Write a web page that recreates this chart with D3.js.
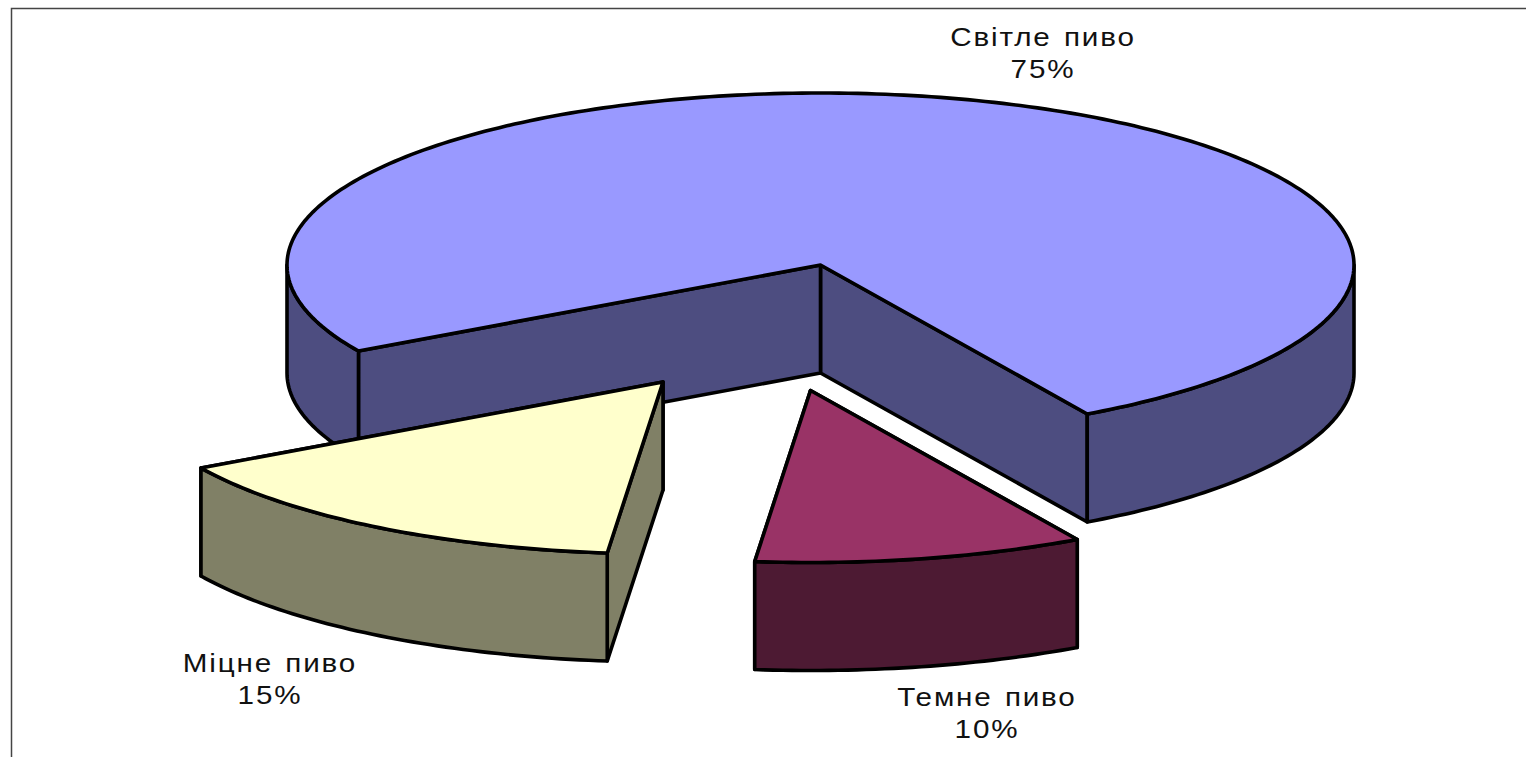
<html>
  <head>
    <meta charset="utf-8">
    <style>
      html, body {
        margin:0;
        background:#fff;
      }
      svg {
        display:block;
      }
      .label {
        font-family:"Liberation Sans", Arial, sans-serif;
        font-size:26px;
        letter-spacing:1.6px;
        word-spacing:2px;
        fill:#111;
        text-anchor:middle;
      }
    </style>
  </head>
  <body>
    <div class="graph"></div>
    <script src="https://d3js.org/d3.v7.min.js"></script>
    <script>
      var names = ["Світле пиво", "Темне пиво", "Міцне пиво"];
      var values = [75, 10, 15];
      var topColors = ["#9999ff", "#993366", "#ffffcc"];
      var sideColors = ["#4d4d80", "#4d1a33", "#808066"];

      var width = 1526;
      var height = 757;
      var cx = 820.5, cy = 265;
      var rx = 533.5, ry = 172;
      var depth = 108;

      // how far each slice is pulled out of the pie
      var shiftX = [0, -10, -157.5];
      var shiftY = [0, 125.5, 117];
      var labelX = [1043, 987, 270];
      var labelY = [46, 706, 672];
      var lineGap = 32;
      var stretch = 1.14;

      var toRad = Math.PI / 180;

      var svg = d3.select(".graph").append("svg")
        .attr("width", width)
        .attr("height", height);

      // frame of the chart area, cut off by the photo on the right and bottom
      svg.append("path")
        .attr("d", "M11.5," + height + "V8.5H" + width)
        .attr("fill", "none")
        .attr("stroke", "#444")
        .attr("stroke-width", 1.5);

      var pie = d3.pie()
        .sort(null)
        .startAngle(240 * toRad)
        .endAngle(600 * toRad);

      var line = d3.line()
        .x(function (d) { return d[0]; })
        .y(function (d) { return d[1]; });

      function rim (i, deg, drop) {
        return [
          cx + shiftX[i] + rx * Math.sin(deg * toRad),
          cy + shiftY[i] + drop - ry * Math.cos(deg * toRad)
        ];
      }

      function sweep (lo, hi) {
        return d3.range(lo, hi, 1).concat([hi]);
      }

      function closed (points) {
        return line(points) + "Z";
      }

      var slices = pie(values);

      slices.forEach(function (s, i) {
        var a0 = s.startAngle / toRad;
        var a1 = s.endAngle / toRad;
        var g = svg.append("g")
          .attr("stroke", "#000")
          .attr("stroke-width", 3.6)
          .attr("stroke-linejoin", "round");
        var apex = [cx + shiftX[i], cy + shiftY[i]];
        var apexLow = [apex[0], apex[1] + depth];

        // flat cut faces, the far one first so the near one hides it
        [a1, a0].forEach(function (a) {
          g.append("path")
            .attr("d", closed([apex, rim(i, a, 0), rim(i, a, depth), apexLow]))
            .attr("fill", sideColors[i]);
        });

        // outer wall, only the front half of the circle can be seen
        [0, 360].forEach(function (k) {
          var lo = Math.max(a0, 90 + k);
          var hi = Math.min(a1, 270 + k);
          if (hi <= lo) return;
          var upper = sweep(lo, hi).map(function (a) { return rim(i, a, 0); });
          var lower = sweep(lo, hi).reverse().map(function (a) { return rim(i, a, depth); });
          g.append("path")
            .attr("d", closed(upper.concat(lower)))
            .attr("fill", sideColors[i]);
        });

        // top face
        var edge = sweep(a0, a1).map(function (a) { return rim(i, a, 0); });
        g.append("path")
          .attr("d", closed([apex].concat(edge)))
          .attr("fill", topColors[i]);
      });

      function addLabel (x, y, txt) {
        svg.append("text")
          .attr("class", "label")
          .attr("transform", "translate(" + x + "," + y + ") scale(" + stretch + ",1)")
          .text(txt);
      }

      slices.forEach(function (s, i) {
        addLabel(labelX[i], labelY[i], names[i]);
        addLabel(labelX[i], labelY[i] + lineGap, values[i] + "%");
      });
    </script>
  </body>
</html>
